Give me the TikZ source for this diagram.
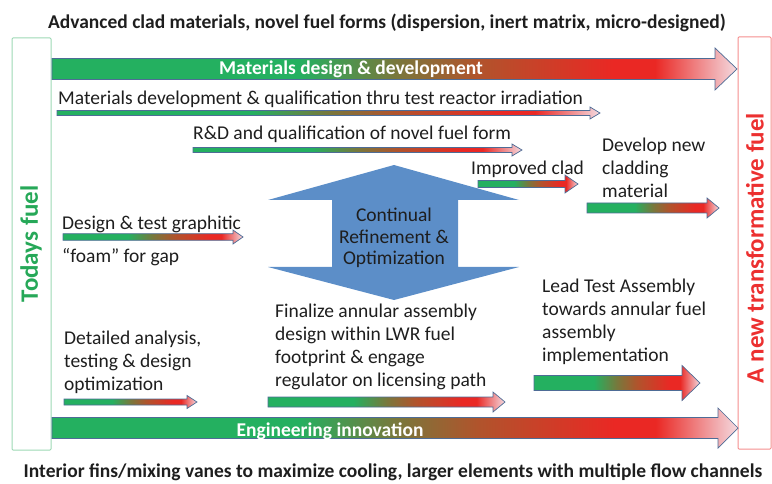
\documentclass[tikz,border=0pt]{standalone}
\usepackage{fontspec}
\setmainfont{Carlito}
\usepackage{xcolor}
\usetikzlibrary{positioning}
\definecolor{fgreen}{RGB}{36,176,96}
\definecolor{folive}{RGB}{120,120,60}
\definecolor{fbrown}{RGB}{176,84,44}
\definecolor{fred}{RGB}{234,40,36}
\definecolor{fpink}{RGB}{244,218,224}
\definecolor{arrowline}{RGB}{78,108,150}
\definecolor{refineblue}{RGB}{92,142,200}
\definecolor{txtgray}{RGB}{30,30,30}
\definecolor{todaygreen}{RGB}{38,168,88}
\definecolor{newred}{RGB}{236,48,48}
\pgfdeclarehorizontalshading{fuelgrad}{100bp}{color(0bp)=(fgreen); color(25bp)=(fgreen); color(43bp)=(fgreen); color(50bp)=(folive); color(56bp)=(fbrown); color(66bp)=(fred); color(69bp)=(fred); color(75bp)=(fpink); color(100bp)=(fpink)}
\tikzset{
	lbl/.style={font=\fontsize{19.5}{23}\selectfont, text=txtgray, inner sep=0pt, align=left, anchor=north west},
	barlbl/.style={font=\bfseries\fontsize{19.5}{22}\selectfont, text=white, inner sep=0pt},
	sidelbl/.style={font=\bfseries\fontsize{25}{25}\selectfont, rotate=90, inner sep=0pt},
	headline/.style={font=\bfseries\fontsize{19.5}{22}\selectfont, text=txtgray, inner sep=0pt}
}
% from x, to x, mid y, half shaft, half head, head length
\newcommand{\gradarrow}[6]{%
	\shadedraw[shading=fuelgrad, draw=arrowline, line width=0.7pt]
		(#1,#3-#4) -- (#2-#6,#3-#4) -- (#2-#6,#3-#5) -- (#2,#3) -- (#2-#6,#3+#5)
		-- (#2-#6,#3+#4) -- (#1,#3+#4) -- cycle;}

\begin{document}
\begin{tikzpicture}[x=1pt, y=-1pt]
	\useasboundingbox (0,0) rectangle (772,484);
	% side boxes
	\draw [todaygreen!45, line width=1pt, rounded corners=1pt] (12,38) rectangle (51,450);
	\draw [newred!55, line width=1pt, rounded corners=1pt] (738,37) rectangle (771,449);
	\node [sidelbl, text=todaygreen] (today) at (31,244) {Todays fuel};
	\node [sidelbl, text=newred] (newfuel) at (755,248) {A new transformative fuel};

	\node [headline] (title) at (387,23) {Advanced clad materials, novel fuel forms (dispersion, inert matrix, micro-designed)};
	\node [headline] (footer) at (393,472.5) {Interior fins/mixing vanes to maximize cooling, larger elements with multiple flow channels};

	% long bars
	\gradarrow{52}{737}{69}{10.5}{21}{22}
	\node [barlbl] (matbar) at (351,69) {Materials design \& development};
	\gradarrow{52}{738}{428}{10.5}{20}{20}
	\node [barlbl] (engbar) at (330,431) {Engineering innovation};

	% continual refinement
	\fill [refineblue] (394,165) -- (519,200) -- (458,200) -- (458,267) -- (519,267) -- (394,300)
		-- (268,267) -- (332,267) -- (332,200) -- (268,200) -- cycle;
	\node [font=\fontsize{19.5}{21.5}\selectfont, text=txtgray, align=center, inner sep=0pt] (refine) at (394,238) {Continual\\Refinement \&\\Optimization};

	% materials track
	\node [lbl] (qualif) at (58,91) {Materials development \& qualification thru test reactor irradiation};
	\gradarrow{57}{600}{113}{2.5}{6}{10}
	\node [lbl] (novel) at (193,126) {R\&D and qualification of novel fuel form};
	\gradarrow{193}{522}{150}{2.5}{6}{10}
	\node [lbl] (clad) at (471,161) {Improved clad};
	\gradarrow{478}{578}{184}{3.5}{9}{13}
	\node [lbl] (newclad) at (602,138) {Develop new\\cladding\\material};
	\gradarrow{587}{719}{208}{5}{10}{12}
	\node [lbl] (graphite) at (62,216) {Design \& test graphitic};
	\gradarrow{63}{243}{237}{3.3}{7}{10}
	\node [lbl] (foam) at (62,248) {“foam” for gap};

	% engineering track
	\node [lbl] (detail) at (64,331) {Detailed analysis,\\testing \& design\\optimization};
	\gradarrow{64}{197}{402}{3}{6.5}{10}
	\node [lbl] (annular) at (275,304) {Finalize annular assembly\\design within LWR fuel\\footprint \& engage\\regulator on licensing path};
	\gradarrow{268}{505}{402}{5}{10}{12}
	\node [lbl] (lead) at (542,279) {Lead Test Assembly\\towards annular fuel\\assembly\\implementation};
	\gradarrow{534}{700}{383}{7.5}{17.5}{18}
\end{tikzpicture}
\end{document}
